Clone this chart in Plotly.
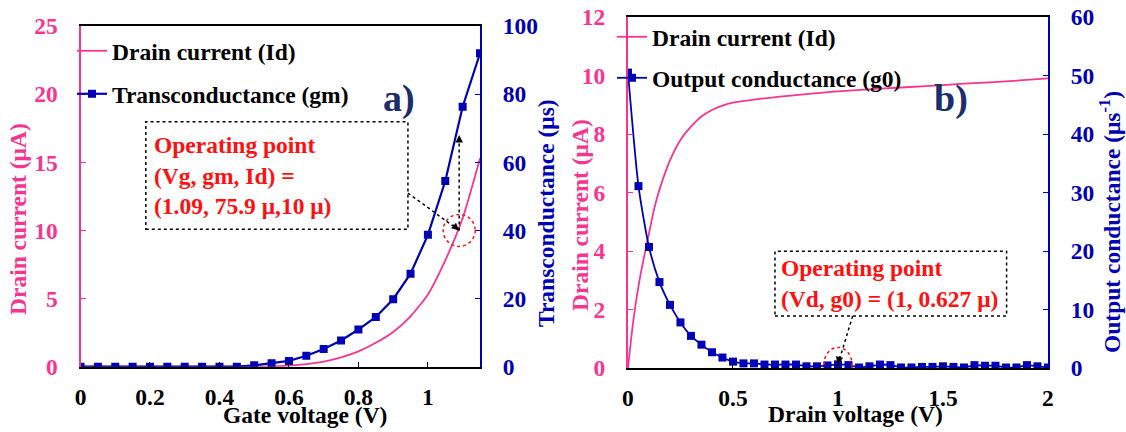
import plotly.graph_objects as go

# ---------------- data: panel a) ----------------
vg = [0.0, 0.05, 0.1, 0.15, 0.2, 0.25, 0.3, 0.35, 0.4, 0.45, 0.5, 0.55,
      0.6, 0.65, 0.7, 0.75, 0.8, 0.85, 0.9, 0.95, 1.0, 1.05, 1.1, 1.15]
id_a = [0, 0, 0, 0, 0, 0, 0, 0, 0, 0, 0, 0.02,
        0.07, 0.18, 0.37, 0.68, 1.12, 1.75, 2.55, 3.7, 5.3, 7.8, 10.9, 15.3]
gm = [0, 0, 0, 0, 0, 0, 0, 0, 0, 0, 0.4, 1.0,
      1.7, 3.2, 5.2, 7.7, 10.9, 14.6, 19.8, 27.3, 38.7, 54.5, 76.3, 92.0]

# ---------------- data: panel b) ----------------
vd_id = [0, 0.025, 0.05, 0.075, 0.1, 0.125, 0.15, 0.2, 0.25, 0.3, 0.35, 0.4,
         0.45, 0.5, 0.6, 0.7, 0.8, 0.9, 1.0, 1.2, 1.4, 1.6, 1.8, 2.0]
id_b = [0, 1.6, 2.8, 3.75, 4.6, 5.45, 6.1, 7.1, 7.8, 8.25, 8.6, 8.82,
        8.97, 9.07, 9.18, 9.26, 9.33, 9.4, 9.46, 9.55, 9.63, 9.72, 9.8, 9.9]
vd = [round(0.05 * i, 2) for i in range(41)]
g0 = [50.5, 31.1, 20.7, 14.7, 10.8, 7.8, 5.5, 4.0, 2.7, 1.8, 1.1,
      0.8, 0.8, 0.6, 0.6, 0.6, 0.6, 0.3, 0.3, 0.45, 0.627,
      0.5, 0.1, 0.3, 0.6, 0.5, 0.1, 0.1, 0.2, 0.2, 0.3,
      0.2, 0.1, 0.5, 0.4, 0.4, 0.1, 0.1, 0.5, 0.3, 0.1]

# operating points
op_a = (1.09, 10.0)     # (Vg, Id)
op_b = (1.0, 0.627)     # (Vd, g0)

PINK = "#f7358f"
BLUE = "#0000b4"
NAVY = "#1b2d6b"
RED = "#ff1010"
FONT = "Liberation Serif"
FS = 23.5

W, H = 1126, 432

fig = go.Figure()

fig.add_trace(go.Scatter(x=vg, y=id_a, mode="lines", name="Drain current (Id)",
                         line=dict(color=PINK, width=1.8, shape="spline", smoothing=0.6),
                         xaxis="x", yaxis="y", legend="legend"))
fig.add_trace(go.Scatter(x=vg, y=gm, mode="lines+markers", name="Transconductance (gm)",
                         line=dict(color=BLUE, width=2.2),
                         marker=dict(symbol="square", size=8, color=BLUE),
                         xaxis="x", yaxis="y2", legend="legend2"))
fig.add_trace(go.Scatter(x=vd_id, y=id_b, mode="lines", name="Drain current (Id)",
                         line=dict(color=PINK, width=1.8, shape="spline", smoothing=0.8),
                         xaxis="x2", yaxis="y3", legend="legend3"))
fig.add_trace(go.Scatter(x=vd, y=g0, mode="lines+markers", name="Output conductance (g0)",
                         line=dict(color=BLUE, width=1.8, shape="spline", smoothing=0.6),
                         marker=dict(symbol="square", size=8, color=BLUE),
                         xaxis="x2", yaxis="y4", legend="legend4"))

tickf = lambda c: dict(family=FONT, size=FS, color=c, weight="bold")

common_x = dict(showgrid=False, zeroline=False, showline=True, linecolor="black",
                linewidth=2, mirror=True, ticks="inside", ticklen=5, tickcolor="black",
                tickfont=tickf("black"), ticklabelstandoff=8, automargin=False)
common_y = dict(showgrid=False, zeroline=False, showline=True, linewidth=2,
                ticks="inside", ticklen=5, ticklabelstandoff=16, automargin=False)

fig.update_layout(
    width=W, height=H, margin=dict(l=0, r=0, t=0, b=0, autoexpand=False),
    paper_bgcolor="white", plot_bgcolor="white",
    xaxis=dict(domain=[0.0715, 0.4263], range=[0, 1.15], tick0=0, dtick=0.2,
               anchor="y", **common_x),
    yaxis=dict(domain=[0.1512, 0.9398], range=[0, 25], dtick=5, anchor="x",
               linecolor=PINK, tickcolor=PINK, tickfont=tickf(PINK), **common_y),
    yaxis2=dict(range=[0, 100], dtick=20, overlaying="y", side="right", anchor="x",
                linecolor=BLUE, tickcolor=BLUE, tickfont=tickf(BLUE), **common_y),
    xaxis2=dict(domain=[0.5577, 0.9307], range=[0, 2], tick0=0, dtick=0.5,
                anchor="y3", **common_x),
    yaxis3=dict(domain=[0.148, 0.9606], range=[0, 12], dtick=2, anchor="x2",
                linecolor=PINK, tickcolor=PINK, tickfont=tickf(PINK), **common_y),
    yaxis4=dict(range=[0, 60], dtick=10, overlaying="y3", side="right", anchor="x2",
                linecolor=BLUE, tickcolor=BLUE, tickfont=tickf(BLUE), **common_y),
    showlegend=True,
)

def leg(x, y):
    return dict(x=x / W, y=1 - y / H, xanchor="left", yanchor="middle",
                bgcolor="rgba(0,0,0,0)", borderwidth=0,
                font=dict(family=FONT, size=FS, color="black", weight="bold"))

fig.update_layout(legend=leg(72, 51), legend2=leg(72, 94),
                  legend3=leg(612, 37), legend4=leg(612, 78))

ann = []
def txt(x, y, s, size=FS, color="black", angle=0, xanchor="center"):
    ann.append(dict(x=x / W, y=1 - y / H, xref="paper", yref="paper", text=s, showarrow=False,
                    textangle=angle, xanchor=xanchor, yanchor="middle",
                    font=dict(family=FONT, size=size, color=color, weight="bold")))

# axis titles
txt(18, 219, "Drain current (μA)", color=PINK, angle=-90)
txt(546, 213, "Transconductance (μs)", color=BLUE, angle=-90)
txt(305, 415, "Gate voltage (V)")
txt(580, 215, "Drain current (μA)", color=PINK, angle=-90)
txt(1110, 222, "Output conductance (μs<sup>-1</sup>)", color=BLUE, angle=-90)
txt(855, 414, "Drain voltage (V)")
# panel labels
txt(399, 98, "a)", size=38, color=NAVY)
txt(951, 98, "b)", size=38, color=NAVY)

# operating point texts
ann.append(dict(x=0.205, y=14.0, xref="x", yref="y", xanchor="left", yanchor="middle",
                align="left", showarrow=False,
                text="Operating point<br>(Vg, gm, Id) =<br>(1.09, 75.9 μ,10 μ)",
                font=dict(family=FONT, size=FS, color=RED, weight="bold")))
ann.append(dict(x=0.72, y=2.9, xref="x2", yref="y3", xanchor="left", yanchor="middle",
                align="left", showarrow=False,
                text="Operating point<br>(Vd, g0) = (1, 0.627 μ)",
                font=dict(family=FONT, size=FS, color=RED, weight="bold")))

# arrowheads
def head(x, y, ax, ay, xref, yref):
    ann.append(dict(x=x, y=y, xref=xref, yref=yref, ax=ax, ay=ay, text=" ",
                    showarrow=True, arrowhead=2, arrowsize=1, arrowwidth=1.5,
                    arrowcolor="black", font=dict(size=1)))

head(op_a[0], 10.0, -8, -7, "x", "y")
head(op_a[0], 17.0, 0, 9, "x", "y")
head(op_b[0], op_b[1], 2, -10, "x2", "y4")
fig.update_layout(annotations=ann)

dot = dict(color="black", width=1.5, dash="dot")
shapes = [
    dict(type="rect", xref="x", yref="y", x0=0.188, x1=0.9425, y0=10.08, y1=17.97, line=dot),
    dict(type="line", xref="x", yref="y", x0=0.9425, y0=12.74, x1=op_a[0], y1=10.0, line=dot),
    dict(type="line", xref="x", yref="y", x0=op_a[0], y0=10.0, x1=op_a[0], y1=17.0, line=dot),
    dict(type="circle", xref="x", yref="y", xsizemode="pixel", ysizemode="pixel",
         xanchor=op_a[0], yanchor=op_a[1], x0=-16, x1=16, y0=-16, y1=16,
         line=dict(color=RED, width=1.5, dash="dot")),
    dict(type="rect", xref="x2", yref="y3", x0=0.7, x1=1.803, y0=1.78, y1=3.99, line=dot),
    dict(type="line", xref="x2", yref="y3", x0=1.07, y0=1.78, x1=op_b[0], y1=0.125, line=dot),
    dict(type="circle", xref="x2", yref="y4", xsizemode="pixel", ysizemode="pixel",
         xanchor=op_b[0], yanchor=op_b[1], x0=-14, x1=14, y0=-17, y1=17,
         line=dict(color=RED, width=1.5, dash="dot")),
]
fig.update_layout(shapes=shapes)

fig.write_html("out.html", config={"displayModeBar": False},
               post_script="document.body.style.margin='0px';document.body.style.overflow='hidden';")
